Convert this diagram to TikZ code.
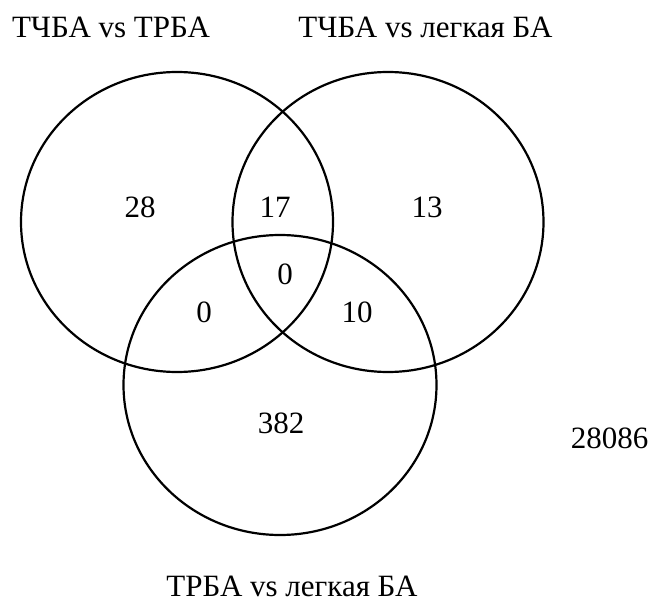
\documentclass[tikz,border=0pt]{standalone}
\usepackage{fontspec}
\setmainfont{Liberation Serif}
\begin{document}
\begin{tikzpicture}[x=1pt,y=-1pt,
  setring/.style={draw=black,line width=2.2pt},
  lbl/.style={inner sep=0pt,font=\fontsize{31}{37}\selectfont},
  ttl/.style={lbl,anchor=base}]
\useasboundingbox (0,0) rectangle (654,602);
\draw[setring] (177,222) ellipse [x radius=156, y radius=150];
\draw[setring] (388,222) ellipse [x radius=155.5, y radius=150];
\draw[setring] (280,385) ellipse [x radius=156.5, y radius=150];
\node[ttl] (t1) at (111,38) {ТЧБА vs ТРБА};
\node[ttl] (t2) at (425.5,38) {ТЧБА vs легкая БА};
\node[ttl] (t3) at (292,596) {ТРБА vs легкая БА};
\node[lbl] (a) at (140,207) {28};
\node[lbl] (ab) at (275,207) {17};
\node[lbl] (b) at (427,207) {13};
\node[lbl] (abc) at (285,274) {0};
\node[lbl] (ac) at (204,312) {0};
\node[lbl] (bc) at (357,312) {10};
\node[lbl] (c) at (281,423) {382};
\node[lbl] (out) at (609.5,438) {28086};
\end{tikzpicture}
\end{document}
